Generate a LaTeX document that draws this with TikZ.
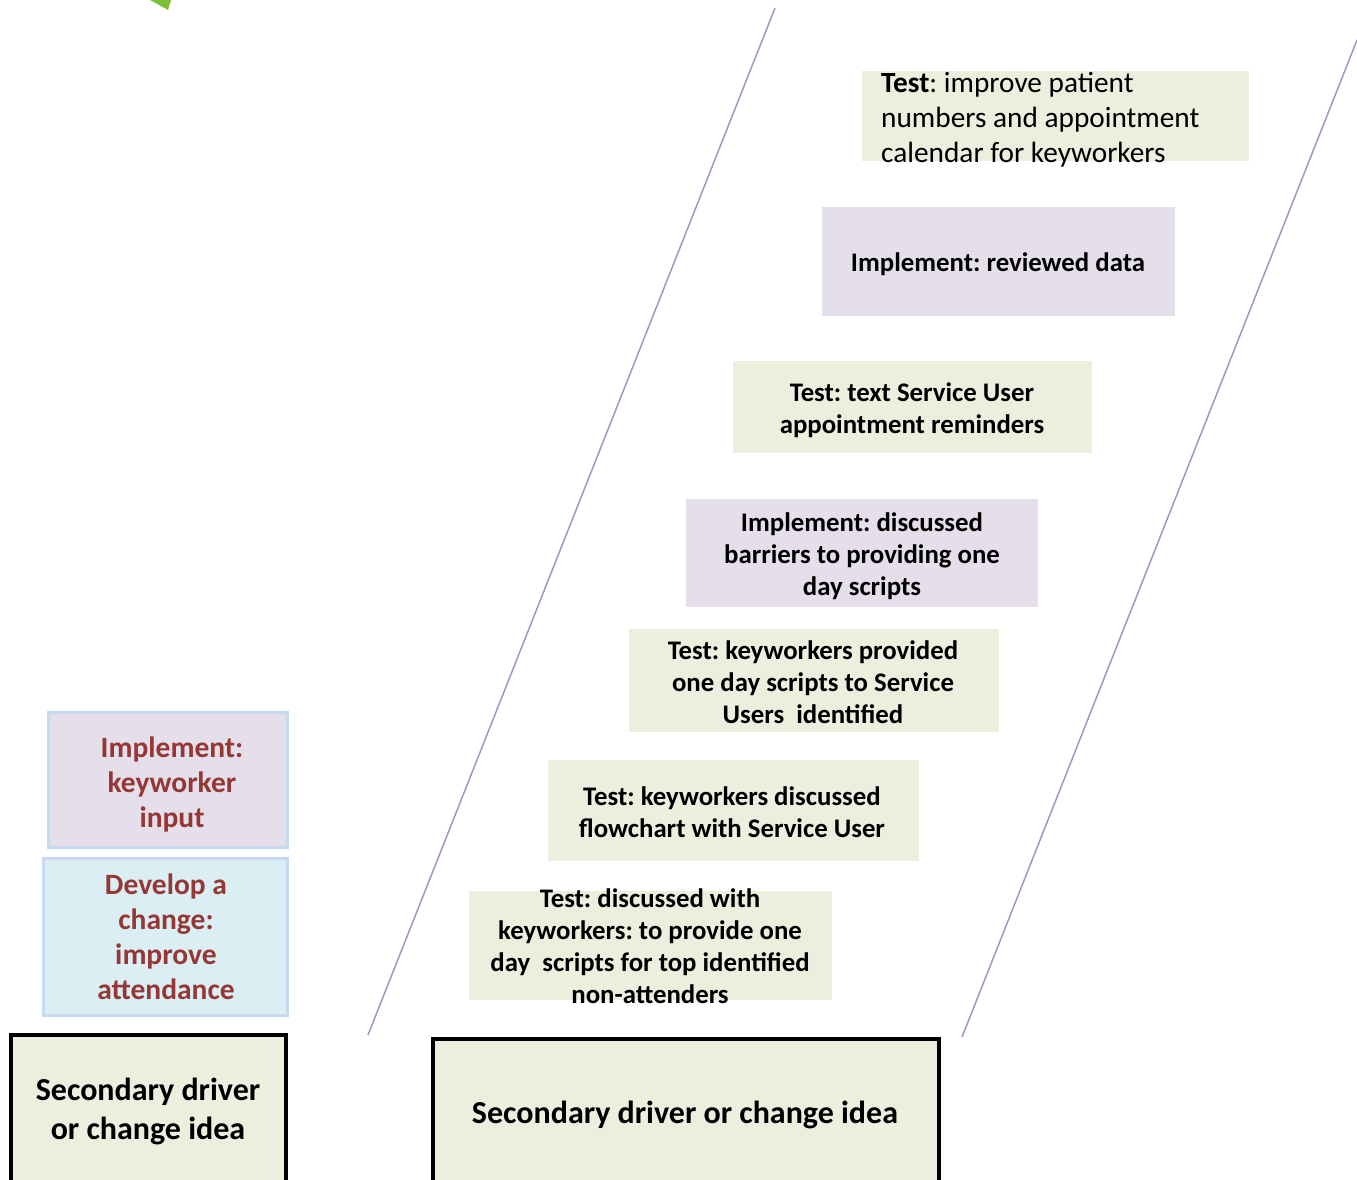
\documentclass[tikz,border=0pt]{standalone}
\usepackage{fontspec}
\setmainfont{Carlito}
\frenchspacing
\definecolor{gfill}{RGB}{235,239,222}
\definecolor{lfill}{RGB}{229,223,236}
\definecolor{bfill}{RGB}{219,238,244}
\definecolor{bborder}{RGB}{198,217,241}
\definecolor{dred}{RGB}{149,55,53}
\definecolor{lline}{RGB}{160,150,195}
\definecolor{leaf}{RGB}{125,190,55}
\tikzset{
  fillbox/.style={draw=none,inner sep=0pt,outer sep=0pt},
  gbox/.style={fillbox,fill=gfill},
  lbox/.style={fillbox,fill=lfill},
  stxt/.style={inner sep=0pt,align=center,font=\fontsize{26.8}{32}\selectfont\bfseries},
  redtxt/.style={inner sep=0pt,align=center,text=dred,font=\fontsize{29.5}{35}\selectfont\bfseries},
  bigtxt/.style={inner sep=0pt,align=center,font=\fontsize{32}{39}\selectfont\bfseries},
  leftbox/.style={fillbox,draw=bborder,line width=3pt},
  blackbox/.style={fillbox,draw=black,line width=4pt,fill=gfill},
  slant/.style={draw=lline,line width=1.5pt}
}
\begin{document}
\begin{tikzpicture}[x=1pt,y=-1pt]
\useasboundingbox (0,0) rectangle (1357,1180);
\clip (0,0) rectangle (1357,1180);
% green leaf fragment
\fill[leaf] (150,0) -- (171,0) -- (168,10) -- cycle;
% slanted lines
\coordinate (l1a) at (368,1035);
\coordinate (l1b) at (775,8);
\coordinate (l2a) at (962,1037);
\coordinate (l2b) at (1357,40);
\draw[slant] (l1a) -- (l1b);
\draw[slant] (l2a) -- (l2b);
% step boxes
\node[gbox,minimum width=387,minimum height=90] (b1) at (1055.5,116) {};
\node[inner sep=0pt,align=left,anchor=west,font=\fontsize{29.3}{35}\selectfont] (t1) at (881,120) {\textbf{Test}: improve patient\\numbers and appointment\\calendar for keyworkers};
\node[lbox,minimum width=353,minimum height=109] (b2) at (998.5,261.5) {};
\node[stxt] (t2) at (998,264) {Implement: reviewed data};
\node[gbox,minimum width=359,minimum height=92] (b3) at (912.5,407) {};
\node[stxt] (t3) at (912,410) {Test: text Service User\\appointment reminders};
\node[lbox,minimum width=352,minimum height=108] (b4) at (862,553) {};
\node[stxt] (t4) at (862,556) {Implement: discussed\\barriers to providing one\\day scripts};
\node[gbox,minimum width=370,minimum height=103] (b5) at (814,680.5) {};
\node[stxt] (t5) at (813,682) {Test: keyworkers provided\\one day scripts to Service\\Users\ \ identified};
\node[gbox,minimum width=371,minimum height=101] (b6) at (733.5,810.5) {};
\node[stxt] (t6) at (732,812) {Test: keyworkers discussed\\flowchart with Service User};
\node[gbox,minimum width=363,minimum height=109] (b7) at (650.5,945.5) {};
\node[stxt] (t7) at (650,946) {Test: discussed with\\keyworkers: to provide one\\day\ \ scripts for top identified\\non-attenders};
% left boxes
\node[leftbox,fill=lfill,minimum width=239,minimum height=135] (lb1) at (167.5,779.5) {};
\node[redtxt] (lt1) at (172,784) {Implement:\\keyworker\\input};
\node[leftbox,fill=bfill,minimum width=244,minimum height=157] (lb2) at (165,936.5) {};
\node[redtxt] (lt2) at (166,937) {Develop a\\change:\\improve\\attendance};
% bottom boxes
\node[blackbox,minimum width=275,minimum height=170] (sb1) at (148.5,1120) {};
\node[bigtxt] (st1) at (148,1111) {Secondary driver\\or change idea};
\node[blackbox,minimum width=506,minimum height=170] (sb2) at (686,1124) {};
\node[bigtxt] (st2) at (685,1115) {Secondary driver or change idea};
\end{tikzpicture}
\end{document}
